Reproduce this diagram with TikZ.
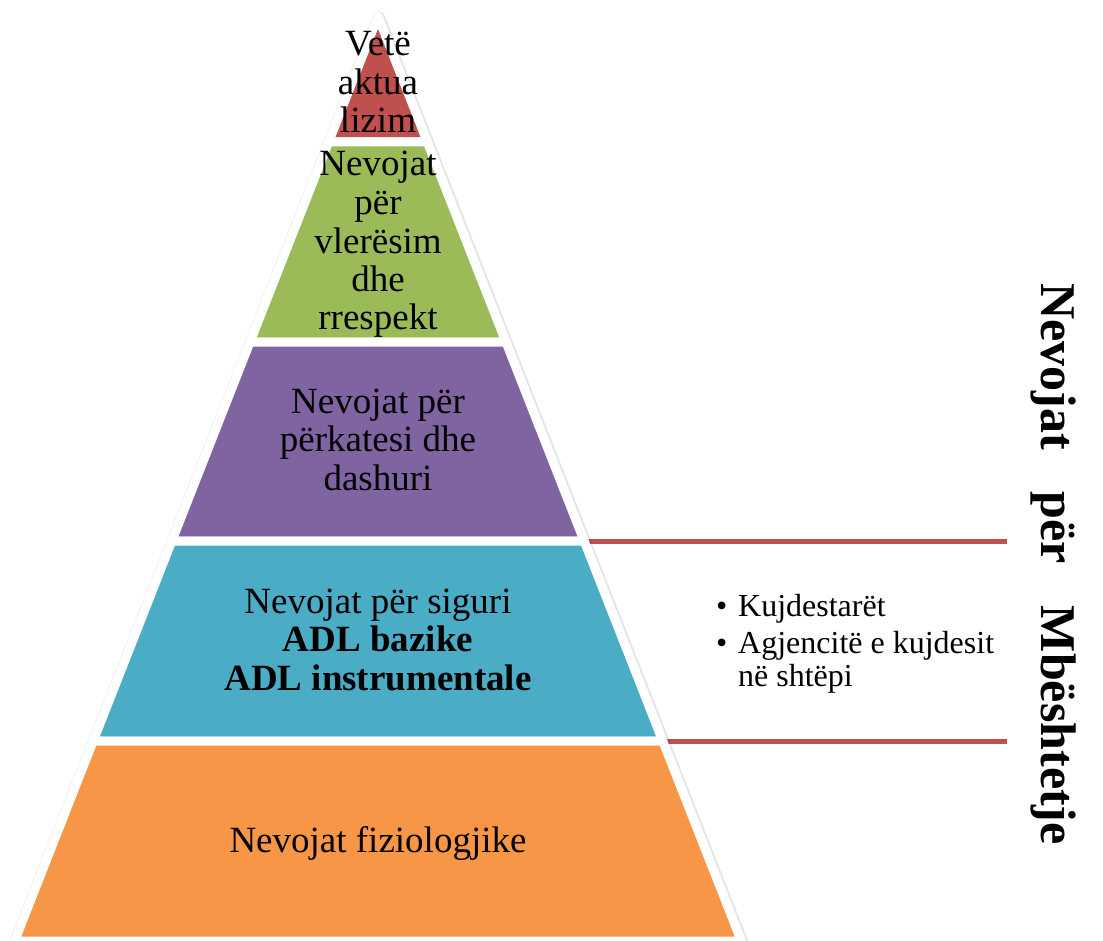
\documentclass[tikz,border=0pt]{standalone}
\usepackage{fontspec}
\setmainfont{Liberation Serif}
\usetikzlibrary{calc}

\definecolor{redlevel}{HTML}{C0504D}
\definecolor{greenlevel}{HTML}{9BBB59}
\definecolor{purplelevel}{HTML}{8064A2}
\definecolor{bluelevel}{HTML}{4BACC6}
\definecolor{orangelevel}{HTML}{F79646}

\tikzset{
  level/.style={draw=white, line width=9pt, line join=round},
  leveltext/.style={font=\fontsize{37}{38.5}\selectfont, align=center, anchor=base, inner sep=0pt},
  bracket/.style={draw=redlevel, line width=5pt},
}

\begin{document}
\begin{tikzpicture}[x=1pt, y=-1pt]
  % Sizes
  \pgfmathsetmacro{\cx}{378}
  \pgfmathsetmacro{\ya}{16.4}
  \pgfmathsetmacro{\slope}{0.393}
  \useasboundingbox (0,0) rectangle (1103,941);

  % bracket for the support
  \coordinate (topL) at ({\cx+(541-\ya)*\slope},541);
  \coordinate (topR) at (1007,541);
  \coordinate (botL) at ({\cx+(741-\ya)*\slope},741);
  \coordinate (botR) at (1007,741);
  \draw[bracket] (topL) -- (topR);
  \draw[bracket] (botL) -- (botR);

  % shadow
  \draw[black, opacity=0.10, line width=12pt, line join=round, shift={(0.8,0.8)}]
    (\cx,\ya) -- ({\cx+(941-\ya)*\slope},941) -- ({\cx-(941-\ya)*\slope},941) -- cycle;

  % levels
  \foreach \ytop/\ybot/\col in {\ya/142/redlevel, 142/342/greenlevel, 342/541/purplelevel,
                                541/741/bluelevel, 741/941/orangelevel}
    \filldraw[level, fill=\col]
      ({\cx-(\ytop-\ya)*\slope},\ytop) -- ({\cx+(\ytop-\ya)*\slope},\ytop)
      -- ({\cx+(\ybot-\ya)*\slope},\ybot) -- ({\cx-(\ybot-\ya)*\slope},\ybot) -- cycle;

  % labels (base = last line)
  \node[leveltext] (selfact) at (\cx,133) {Vetë\\aktua\\lizim};
  \node[leveltext] (esteem) at (\cx,330) {Nevojat\\për\\vlerësim\\dhe\\rrespekt};
  \node[leveltext] (love) at (\cx,490) {Nevojat për\\përkatesi dhe\\dashuri};
  \node[leveltext] (safety) at (\cx,690) {Nevojat për siguri\\\textbf{ADL bazike}\\\textbf{ADL instrumentale}};
  \node[leveltext] (physio) at (\cx,852) {Nevojat fiziologjike};

  \node[anchor=base west, font=\fontsize{32}{32.4}\selectfont, align=left, inner sep=0pt] (carers) at (716,686)
    {\makebox[22pt][l]{\textbullet}Kujdestarët\\[5pt]\makebox[22pt][l]{\textbullet}Agjencitë e kujdesit\\\hspace*{22pt}në shtëpi};

  \node[anchor=base west, rotate=-90, font=\fontsize{50}{50}\selectfont\bfseries, inner sep=0pt] (support) at (1041,283)
    {Nevojat\hspace{42pt}për\hspace{42pt}Mbështetje};
\end{tikzpicture}
\end{document}
